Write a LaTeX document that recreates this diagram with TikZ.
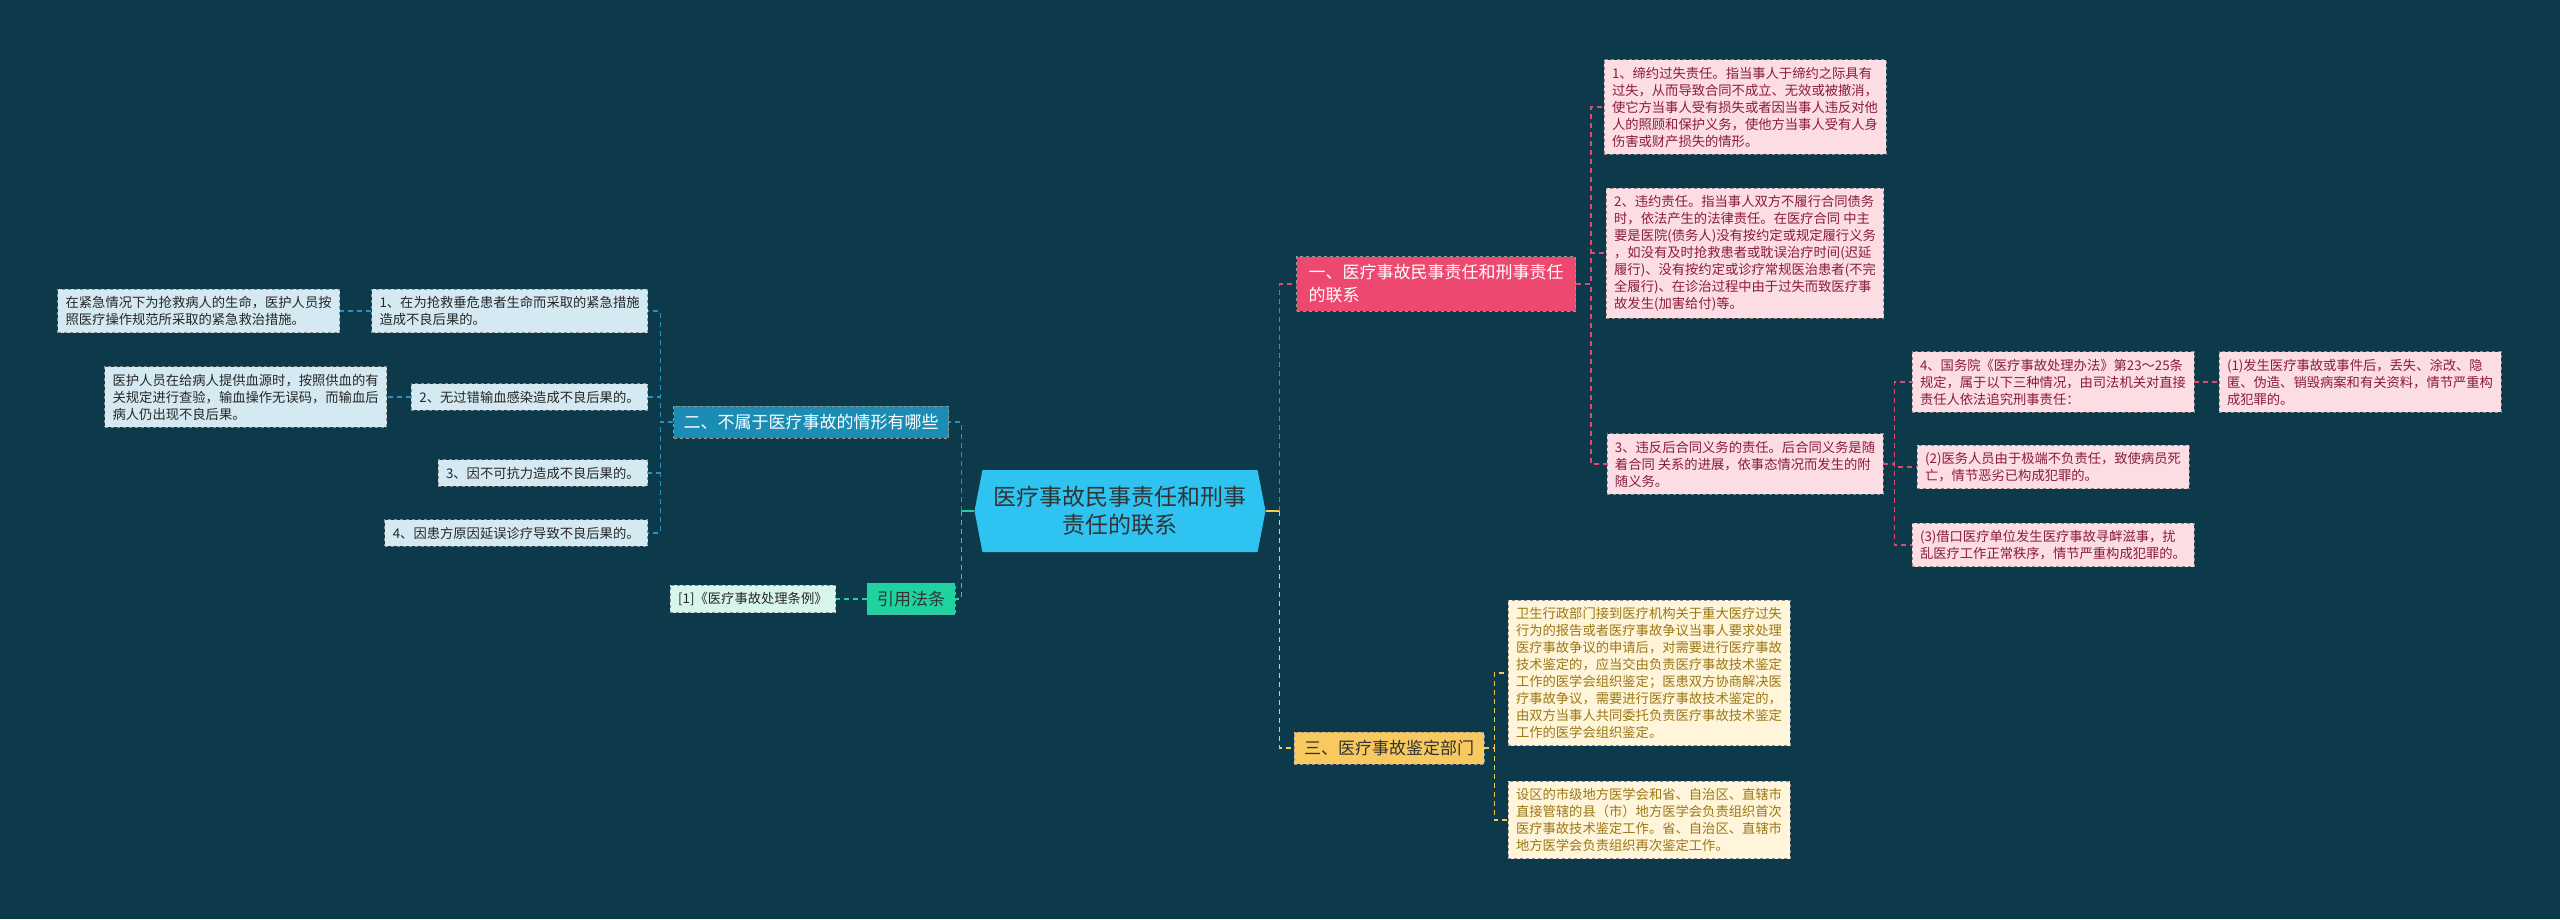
\documentclass[tikz,border=0pt]{standalone}
\usepackage{fontspec}
\setmainfont{Noto Sans CJK SC}
\usetikzlibrary{shapes.symbols}

\definecolor{bgcol}{HTML}{0C3A4B}
\definecolor{centerfill}{HTML}{2EC3F0}
\definecolor{redfill}{HTML}{EC4870}
\definecolor{bluefill}{HTML}{1B8DB5}
\definecolor{yellowfill}{HTML}{F7C95E}
\definecolor{greenfill}{HTML}{1FD3A0}
\definecolor{pinkleaffill}{HTML}{FCDDE3}
\definecolor{pinktext}{HTML}{8A1C3C}
\definecolor{blueleaffill}{HTML}{D4E9F2}
\definecolor{yellowleaffill}{HTML}{FFF5DA}
\definecolor{yellowtext}{HTML}{9C7715}
\definecolor{greenleaffill}{HTML}{D8F5EC}
\definecolor{pinkcol}{HTML}{E04A72}
\definecolor{bluecol}{HTML}{2A8FBF}
\definecolor{yellowcol}{HTML}{F5C85A}
\definecolor{greencol}{HTML}{25D0A0}

\newcommand\leaffont{\fontsize{13.3}{17}\selectfont}
\newcommand\topicfont{\fontsize{17}{23}\selectfont}

\begin{document}
\begin{tikzpicture}[
    x=1pt, y=-1pt,
    leaf/.style={rectangle, draw=black!45, dashed, line width=0.8pt, align=left, font=\leaffont, inner xsep=8pt, inner ysep=7pt},
    pinkleaf/.style={leaf, fill=pinkleaffill, text=pinktext},
    blueleaf/.style={leaf, fill=blueleaffill, text=black!85},
    yellowleaf/.style={leaf, fill=yellowleaffill, text=yellowtext},
    greenleaf/.style={leaf, fill=greenleaffill, text=black!85},
    topic/.style={rectangle, draw=black!40, dashed, line width=0.8pt, align=left, font=\topicfont, inner xsep=10pt, inner ysep=8pt},
    link/.style={dash pattern=on 5pt off 4pt, line width=1.2pt},
    pinkline/.style={link, draw=pinkcol},
    blueline/.style={link, draw=bluecol},
    yellowline/.style={link, draw=yellowcol},
    greenline/.style={link, draw=greencol}
]

% Background
\fill[bgcol] (0,0) rectangle (2560,919);
\useasboundingbox (0,0) rectangle (2560,919);

% Central topic
\node[signal, signal to=east and west, signal pointer angle=158, fill=centerfill, text=black!80,
      minimum width=291pt, minimum height=82pt, align=center, font=\fontsize{23}{28}\selectfont]
      (center) at (1120,511) {医疗事故民事责任和刑事\\责任的联系};

% Main branches
\node[topic, fill=redfill, text=white, inner xsep=12pt] (civil) at (1436,284) {一、医疗事故民事责任和刑事责任\\的联系};
\node[topic, fill=bluefill, text=white] (notacc) at (811,422) {二、不属于医疗事故的情形有哪些};
\node[topic, fill=yellowfill, text=black!80] (appraise) at (1389,748) {三、医疗事故鉴定部门};
\node[topic, fill=greenfill, text=black!80] (lawref) at (911,599) {引用法条};

% Right side: civil and criminal liability
\node[pinkleaf] (contract1) at (1745,107) {1、缔约过失责任。指当事人于缔约之际具有\\过失，从而导致合同不成立、无效或被撤消，\\使它方当事人受有损失或者因当事人违反对他\\人的照顾和保护义务，使他方当事人受有人身\\伤害或财产损失的情形。};
\node[pinkleaf] (contract2) at (1745,253) {2、违约责任。指当事人双方不履行合同债务\\时，依法产生的法律责任。在医疗合同 中主\\要是医院(债务人)没有按约定或规定履行义务\\，如没有及时抢救患者或耽误治疗时间(迟延\\履行)、没有按约定或诊疗常规医治患者(不完\\全履行)、在诊治过程中由于过失而致医疗事\\故发生(加害给付)等。};
\node[pinkleaf] (contract3) at (1745,464) {3、违反后合同义务的责任。后合同义务是随\\着合同 关系的进展，依事态情况而发生的附\\随义务。};
\node[pinkleaf] (crime) at (2053,382) {4、国务院《医疗事故处理办法》第23～25条\\规定，属于以下三种情况，由司法机关对直接\\责任人依法追究刑事责任：};
\node[pinkleaf] (crime1) at (2360,382) {(1)发生医疗事故或事件后，丢失、涂改、隐\\匿、伪造、销毁病案和有关资料，情节严重构\\成犯罪的。};
\node[pinkleaf] (crime2) at (2053,467) {(2)医务人员由于极端不负责任，致使病员死\\亡，情节恶劣已构成犯罪的。};
\node[pinkleaf] (crime3) at (2053,545) {(3)借口医疗单位发生医疗事故寻衅滋事，扰\\乱医疗工作正常秩序，情节严重构成犯罪的。};

% Right side: appraisal
\node[yellowleaf] (body1) at (1649,673) {卫生行政部门接到医疗机构关于重大医疗过失\\行为的报告或者医疗事故争议当事人要求处理\\医疗事故争议的申请后，对需要进行医疗事故\\技术鉴定的，应当交由负责医疗事故技术鉴定\\工作的医学会组织鉴定；医患双方协商解决医\\疗事故争议，需要进行医疗事故技术鉴定的，\\由双方当事人共同委托负责医疗事故技术鉴定\\工作的医学会组织鉴定。};
\node[yellowleaf] (body2) at (1649,820) {设区的市级地方医学会和省、自治区、直辖市\\直接管辖的县（市）地方医学会负责组织首次\\医疗事故技术鉴定工作。省、自治区、直辖市\\地方医学会负责组织再次鉴定工作。};

% Left side: not medical accidents
\node[blueleaf, anchor=east] (case1) at (648,311) {1、在为抢救垂危患者生命而采取的紧急措施\\造成不良后果的。};
\node[blueleaf, anchor=east] (case1x) at (340,311) {在紧急情况下为抢救病人的生命，医护人员按\\照医疗操作规范所采取的紧急救治措施。};
\node[blueleaf, anchor=east] (case2) at (648,397) {2、无过错输血感染造成不良后果的。};
\node[blueleaf, anchor=east] (case2x) at (387,397) {医护人员在给病人提供血源时，按照供血的有\\关规定进行查验，输血操作无误码，而输血后\\病人仍出现不良后果。};
\node[blueleaf, anchor=east] (case3) at (648,473) {3、因不可抗力造成不良后果的。};
\node[blueleaf, anchor=east] (case4) at (648,533) {4、因患方原因延误诊疗导致不良后果的。};

% Left side: law reference
\node[greenleaf, anchor=east] (rule) at (836,599) {[1]《医疗事故处理条例》};

% Connectors - center to branches
\draw[yellowcol, line width=1.5pt] (center.east) -- ++(14,0) coordinate (rbus);
\draw[pinkline] (rbus) |- (civil.west);
\draw[yellowline] (rbus) |- (appraise.west);
\draw[greencol, line width=1.5pt] (center.west) -- ++(-13,0) coordinate (lbus);
\draw[blueline] (lbus) |- (notacc.east);
\draw[greenline] (lbus) |- (lawref.east);

% Connectors - civil branch
\foreach \n in {contract1,contract2,contract3}
  \draw[pinkline] (civil.east) -- ++(15,0) |- (\n.west);
\foreach \n in {crime,crime2,crime3}
  \draw[pinkline] (contract3.east) -- ++(11,0) |- (\n.west);
\draw[pinkline] (crime.east) -- (crime1.west);

% Connectors - appraisal branch
\foreach \n in {body1,body2}
  \draw[yellowline] (appraise.east) -- ++(10,0) |- (\n.west);

% Connectors - left branch
\foreach \n in {case1,case2,case3,case4}
  \draw[blueline] (notacc.west) -- ++(-13,0) |- (\n.east);
\draw[blueline] (case1.west) -- (case1x.east);
\draw[blueline] (case2.west) -- (case2x.east);
\draw[greenline] (lawref.west) -- (rule.east);

\end{tikzpicture}
\end{document}
